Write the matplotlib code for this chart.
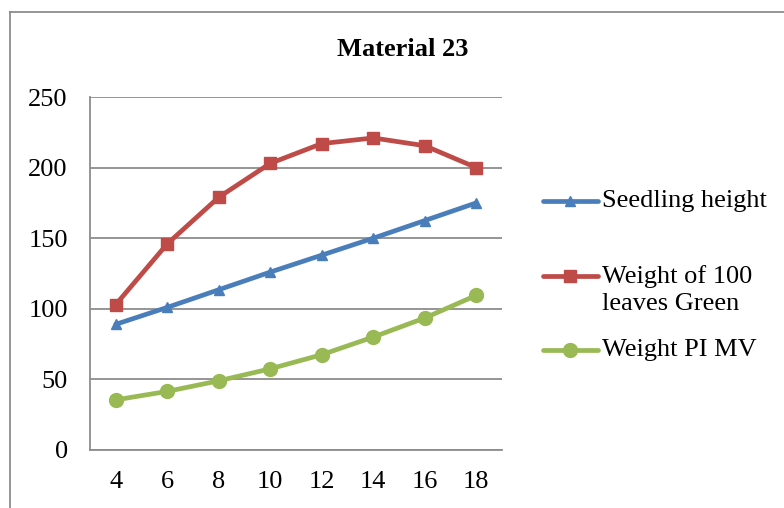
import matplotlib
matplotlib.use("Agg")
import matplotlib.pyplot as plt
from matplotlib.lines import Line2D

plt.rcParams['font.family'] = ['Liberation Serif', 'DejaVu Serif']

days = [4, 6, 8, 10, 12, 14, 16, 18]
seedling_height = [89, 101, 113.5, 126, 138, 150, 162.5, 175]
weight_100_leaves = [103, 146, 179, 203, 217, 221, 215.5, 200]
weight_pi_mv = [35.5, 41.5, 49, 57.5, 67.5, 80, 93.5, 109.5]
y_ticks = [0, 50, 100, 150, 200, 250]

series = [
    ("Seedling height", seedling_height, "#4A7EBB", "^", 7),
    ("Weight of 100\nleaves Green", weight_100_leaves, "#BE4B48", "s", 8),
    ("Weight PI MV", weight_pi_mv, "#98B954", "o", 10),
]

W, H = 784, 508
FS = 19
fig = plt.figure(figsize=(W / 100, H / 100), dpi=100)
ax = fig.add_axes([90 / W, 1 - 450 / H, 412 / W, 353 / H])

x = list(range(len(days)))
for label, vals, color, marker, ms in series:
    ax.plot(x, vals, color=color, lw=3.4, marker=marker, markersize=ms,
            markeredgecolor=color, markerfacecolor=color, solid_capstyle='round',
            clip_on=False, zorder=3)

ax.set_xlim(-0.5, len(days) - 0.5)
ax.set_ylim(0, 250)
ax.set_yticks(y_ticks)
ax.set_yticklabels([str(v) for v in y_ticks], fontsize=FS)
ax.set_xticks(x)
ax.set_xticklabels([str(d) for d in days], fontsize=FS)
ax.tick_params(length=0)
ax.tick_params(axis='x', pad=15)
ax.tick_params(axis='y', pad=16)
ax.yaxis.grid(True, color='#8C8C8C', lw=1.3)
ax.set_axisbelow(True)
for side in ('top', 'right'):
    ax.spines[side].set_visible(False)
for side in ('left', 'bottom'):
    ax.spines[side].set_color('#8C8C8C')
    ax.spines[side].set_linewidth(1.3)

# Title
fig.text(403 / W, 1 - 49 / H, "Material 23", ha='center', va='center',
         fontsize=FS, fontweight='bold')

# Legend drawn in figure pixels
def fy(py):
    return 1 - py / H

legend_rows = [(201, 201), (276, 290), (350, 350)]
for (label, vals, color, marker, ms), (hy, ty) in zip(series, legend_rows):
    fig.add_artist(Line2D([543 / W, 598 / W], [fy(hy), fy(hy)], color=color, lw=3.4,
                          solid_capstyle='round', transform=fig.transFigure))
    fig.add_artist(Line2D([570 / W], [fy(hy)], marker=marker, markersize=ms,
                          color=color, transform=fig.transFigure))
    fig.text(602 / W, fy(ty), label, ha='left', va='center', fontsize=FS,
             linespacing=1.25)

# Chart frame
fig.add_artist(Line2D([10 / W, 10 / W], [fy(12), 0], color='#8C8C8C', lw=1.3,
                      transform=fig.transFigure))
fig.add_artist(Line2D([10 / W, 1], [fy(12), fy(12)], color='#8C8C8C', lw=1.3,
                      transform=fig.transFigure))

fig.savefig("out.png", dpi=100)
